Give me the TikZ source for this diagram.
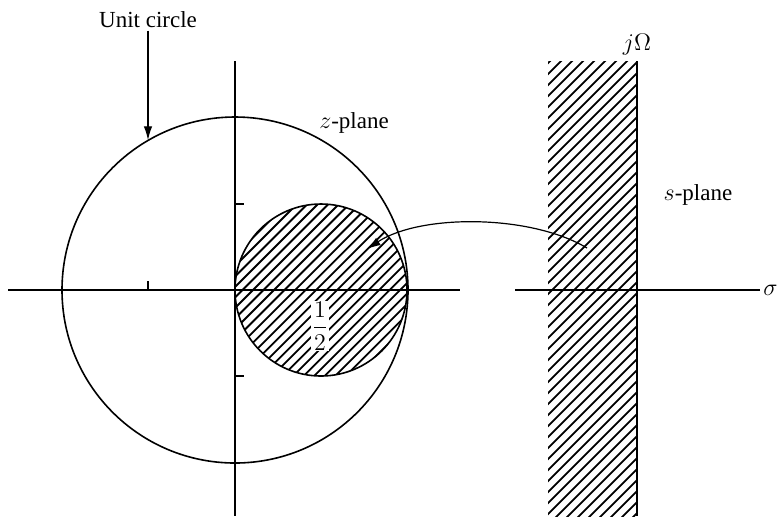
\documentclass[tikz,border=0pt]{standalone}
\usepackage{fontspec}
\setmainfont{Liberation Serif}
\usetikzlibrary{arrows.meta}
\tikzset{
  axis/.style={line width=0.6pt},
  contour/.style={line width=0.8pt},
  hatch/.style={line width=0.9pt},
  tick/.style={line width=0.6pt},
  label/.style={font=\fontsize{11.5}{13}\selectfont, inner sep=1pt},
  pointer/.style={-{Latex[length=2.4mm,width=1.5mm]}, line width=0.6pt}
}

\begin{document}
\begin{tikzpicture}[x=0.5pt,y=-0.5pt]
  \useasboundingbox (0,0) rectangle (779,516);

  % z-plane: hatched disc |z-1/2| < 1/2
  \coordinate (zo) at (235,290);
  \coordinate (zc) at (321,290);
  \begin{scope}
    \clip (zc) circle (86);
    \foreach \c in {480,490.5,...,745}
      \draw[hatch] (\c-150,150) -- (\c-450,450);
  \end{scope}
  \draw[contour] (zo) circle (173);
  \draw[contour] (zc) circle (86);
  \draw[axis] (8,290) -- (460,290);
  \draw[axis] (235,61) -- (235,516);
  \draw[tick] (148,290) -- (148,281);
  \draw[tick] (235,204) -- (244,204);
  \draw[tick] (235,376) -- (244,376);

  % s-plane: hatched left half plane
  \begin{scope}
    \clip (548,61) rectangle (637,516);
    \foreach \c in {600,611,...,1160}
      \draw[hatch] (\c-40,40) -- (\c-540,540);
  \end{scope}
  \draw[contour, line width=1pt] (637,61) -- (637,516);
  \draw[axis] (515,290) -- (760,290);

  % labels
  \node[label] (unit) at (148,20) {Unit circle};
  \node[label] (zlabel) at (354,123) {$z$-plane};
  \node[label] (slabel) at (698,195) {$s$-plane};
  \node[label] (jomega) at (637,45) {$j\Omega$};
  \node[label, anchor=west, inner sep=0pt] (sigma) at (763,290) {$\sigma$};
  \node[label, fill=white, inner sep=0.5pt] (half) at (320,326) {$\displaystyle\frac{1}{2}$};

  % connectors
  \coordinate (unitpt) at (148,140);
  \draw[pointer] (unit) -- (unitpt);
  \coordinate (src) at (587,248);
  \coordinate (dst) at (367,249);
  \draw[pointer] (src) .. controls (530,214) and (420,214) .. (dst);
\end{tikzpicture}
\end{document}
